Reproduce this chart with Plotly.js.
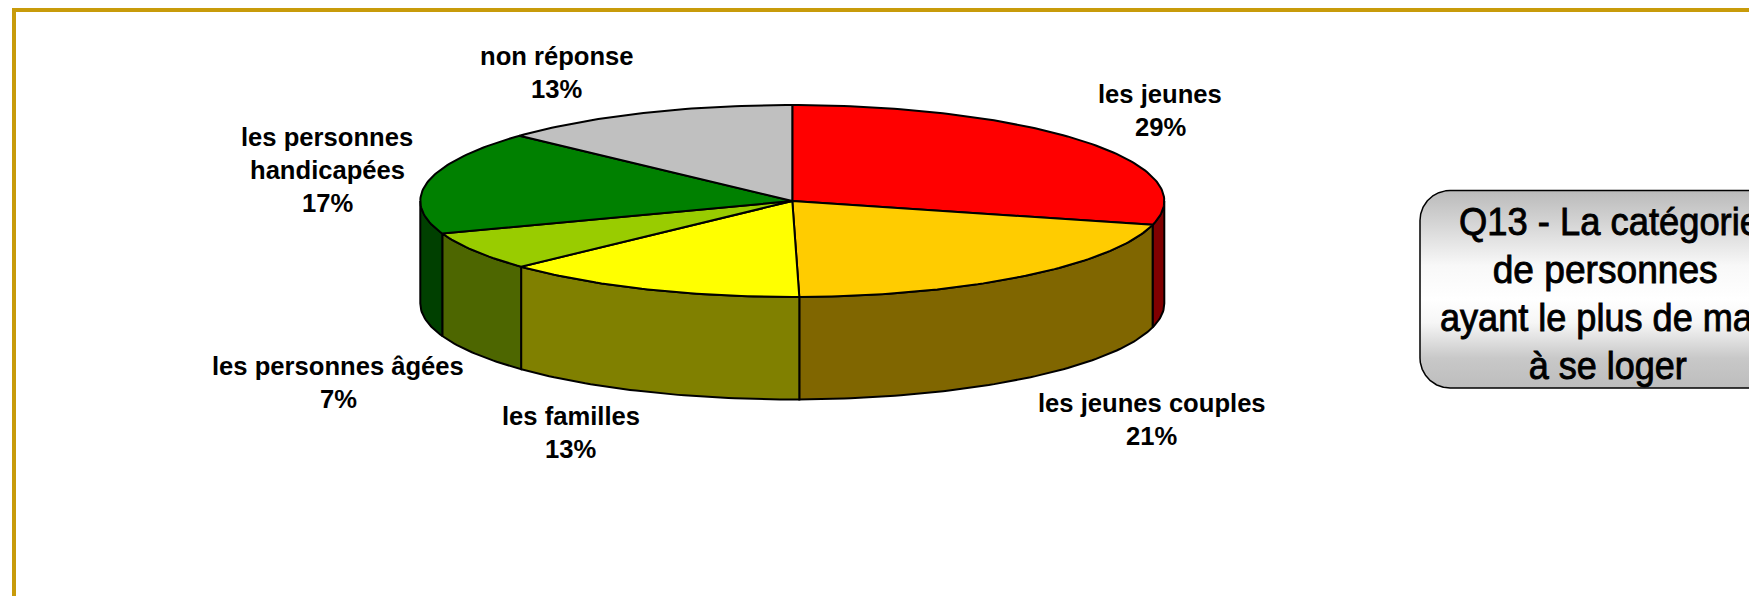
<!DOCTYPE html>
<html><head><meta charset="utf-8"><script src="https://cdn.plot.ly/plotly-3.0.1.min.js"></script>
<style>html,body{margin:0;padding:0;background:#fff;overflow:hidden}#c{width:1749px;height:596px}</style></head>
<body><div id="c"></div><script>
const categories = ['les jeunes','les jeunes couples','les familles','les personnes âgées','les personnes handicapées','non réponse'];
const shares = [29, 20.7, 13.3, 6.5, 17.4, 13.1];
const topColors = ['#FF0000','#FFCC00','#FFFF00','#99CC00','#008000','#C0C0C0'];
const sideColors = ['#800000','#806600','#808000','#4D6600','#004000','#606060'];
const labelLines = [['les jeunes'],['les jeunes couples'],['les familles'],['les personnes âgées'],['les personnes','handicapées'],['non réponse']];
const labelX = [1160,1151.5,570.5,338,327,556.5];
const labelY = [93.7,402.7,415.7,365.7,136.7,55.7];
const titleLines = ['Q13 - La catégorie','de personnes','ayant le plus de mal','à se loger'];
const titleX = [1609.5,1604.5,1600.5,1607];
const titleY = [221,269,317,365];
const titleWidths = [301,225,321,158];

const cx=792.3, cy=201, rx=372, ry=96, depth=102.5;
const rad=d=>d*Math.PI/180;
const px=t=>cx+rx*Math.sin(rad(t));
const py=t=>cy-ry*Math.cos(rad(t));
function arc(a,b){const n=Math.max(2,Math.ceil(Math.abs(b-a)));const out=[];for(let i=0;i<=n;i++)out.push(a+(b-a)*i/n);return out;}

const traces=[];
const total=shares.reduce((s,v)=>s+v,0);
let cum=0;
const spans=shares.map(v=>{const a=cum/total*360;cum+=v;return [a,cum/total*360];});
const line={color:'#000',width:2};

spans.forEach(([a,b],i)=>{
  const s=Math.max(a,90),e=Math.min(b,270);
  if(e<=s)return;
  const ts=arc(s,e);
  const x=ts.map(px).concat(ts.slice().reverse().map(px));
  const y=ts.map(py).concat(ts.slice().reverse().map(t=>py(t)+depth));
  x.push(x[0]);y.push(y[0]);
  traces.push({type:'scatter',mode:'lines',x,y,fill:'toself',fillcolor:sideColors[i],line,hoverinfo:'skip',showlegend:false,name:categories[i]});
});
spans.forEach(([a,b],i)=>{
  const ts=arc(a,b);
  const x=[cx].concat(ts.map(px),[cx]);
  const y=[cy].concat(ts.map(py),[cy]);
  traces.push({type:'scatter',mode:'lines',x,y,fill:'toself',fillcolor:topColors[i],line,hoverinfo:'skip',showlegend:false,name:categories[i]});
});
const bx0=1420,bx1=1800,by0=190.5,by1=388,br=30;
const bxs=[],bys=[];
arc(270,360).forEach(t=>{bxs.push(bx0+br+br*Math.sin(rad(t)));bys.push(by0+br-br*Math.cos(rad(t)));});
bxs.push(bx1,bx1);bys.push(by0,by1);
arc(180,270).forEach(t=>{bxs.push(bx0+br+br*Math.sin(rad(t)));bys.push(by1-br-br*Math.cos(rad(t)));});
bxs.push(bxs[0]);bys.push(bys[0]);
traces.push({type:'scatter',mode:'lines',x:bxs,y:bys,fill:'toself',line:{color:'#000',width:1.5},hoverinfo:'skip',showlegend:false,
  fillgradient:{type:'vertical',colorscale:[[0,'#BDBDBD'],[0.15,'#C8C8C8'],[0.33,'#F6F6F6'],[0.45,'#FFFFFF'],[0.62,'#F8F8F8'],[0.85,'#D2D2D2'],[1,'#BABABA']]}});

const annotations=[];
const note=(x,y,text,font)=>annotations.push({x,y,xref:'x',yref:'y',text,showarrow:false,xanchor:'center',yanchor:'middle',font,align:'center'});
const labelFont={family:'"Liberation Sans",Arial,sans-serif',size:25.6,color:'#000'};
categories.forEach((c,i)=>{
  const lines=labelLines[i].concat([Math.round(shares[i])+'%']);
  lines.forEach((t,j)=>note(labelX[i],labelY[i]+j*33.3,'<b>'+t+'</b>',labelFont));
});
const titleFont={family:'"Liberation Sans",Arial,sans-serif',size:39,color:'#000'};
titleLines.forEach((t,j)=>note(titleX[j],titleY[j],t,titleFont));

const layout={width:1749,height:596,margin:{l:0,r:0,t:0,b:0},paper_bgcolor:'#fff',plot_bgcolor:'#fff',showlegend:false,
  xaxis:{range:[0,1749],visible:false,fixedrange:true},
  yaxis:{range:[596,0],visible:false,fixedrange:true},
  annotations,
  shapes:[
    {type:'rect',xref:'x',yref:'y',x0:12,x1:1760,y0:8,y1:12,fillcolor:'#C89B0A',line:{width:0},layer:'below'},
    {type:'rect',xref:'x',yref:'y',x0:12,x1:16,y0:8,y1:610,fillcolor:'#C89B0A',line:{width:0},layer:'below'}
  ]};
Plotly.newPlot('c',traces,layout,{displayModeBar:false,staticPlot:true}).then(gd=>{
  document.querySelectorAll('text.annotation-text').forEach(el=>{
    const i=titleLines.indexOf(el.textContent);
    if(i<0)return;
    el.setAttribute('textLength',titleWidths[i]);
    el.setAttribute('lengthAdjust','spacingAndGlyphs');
    el.style.stroke='#000';el.style.strokeWidth='0.9px';
  });
});
</script></body></html>
